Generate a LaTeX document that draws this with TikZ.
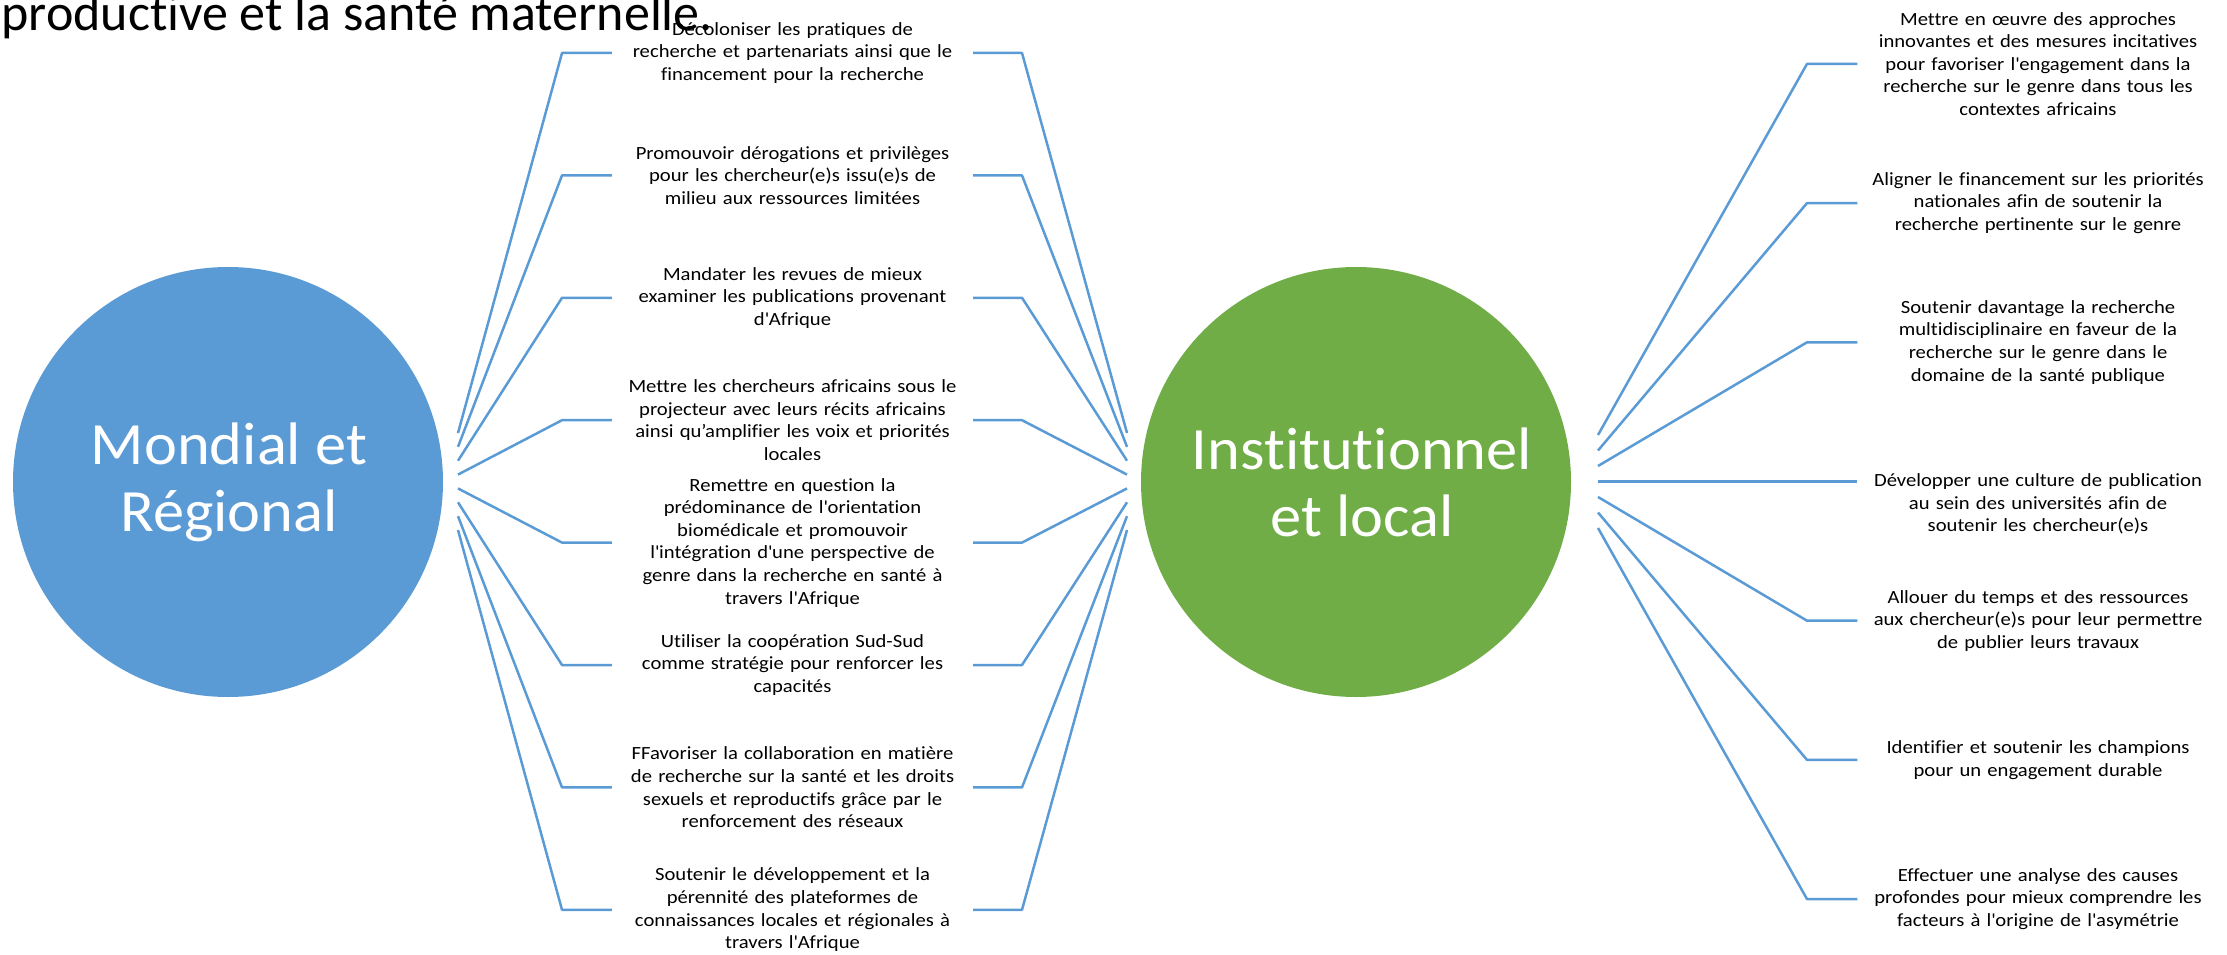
\documentclass[tikz,border=0pt]{standalone}
\usepackage{fontspec}
\setmainfont[Ligatures=NoCommon]{Carlito}
\newfontfamily\itemfont[FakeStretch=1.11,Ligatures=NoCommon]{Carlito}
\newfontfamily\hubfont[FakeStretch=1.04,Ligatures=NoCommon]{Carlito}
\newcommand\ap{\textquotesingle}
\definecolor{cblue}{HTML}{5B9BD5}
\definecolor{cgreen}{HTML}{70AD47}
\begin{document}
\begin{tikzpicture}[x=1pt,y=-1pt,
  hub/.style={circle,minimum size=430pt,inner sep=0pt},
  hubtext/.style={inner sep=0pt,text=white,align=center,font=\hubfont\fontsize{60}{67}\selectfont},
  item/.style={text width=361pt,inner sep=0pt,align=center,font=\itemfont\fontsize{18.6}{22.6}\selectfont},
  link/.style={draw=cblue,line width=2.5pt,line join=round}]
\useasboundingbox (0,0) rectangle (2227,955);
\clip (0,0) rectangle (2227,955);
\node[anchor=base east,inner sep=0pt,font=\fontsize{52}{62}\selectfont] (title) at (713,31) {reproductive et la santé maternelle.};
\node[hub,fill=cblue] (L) at (228,482) {};
\node[hubtext] (Lt) at (229,482) {Mondial et\\Régional};
\node[hub,fill=cgreen] (R) at (1356,482) {};
\node[hubtext] (Rt) at (1362,482) {Institutionnel\\et local};
% middle items
\node[item] (m1) at (792.5,53) {Décoloniser les pratiques de\\recherche et partenariats ainsi que le\\financement pour la recherche};
\node[item] (m2) at (792.5,175.4) {Promouvoir dérogations et privilèges\\pour les chercheur(e)s issu(e)s de\\milieu aux ressources limitées};
\node[item] (m3) at (792.5,297.8) {Mandater les revues de mieux\\examiner les publications provenant\\d\ap Afrique};
\node[item] (m4) at (792.5,420.2) {Mettre les chercheurs africains sous le\\projecteur avec leurs récits africains\\ainsi qu’amplifier les voix et priorités\\locales};
\node[item] (m5) at (792.5,542.6) {Remettre en question la\\prédominance de l\ap orientation\\biomédicale et promouvoir\\l\ap intégration d\ap une perspective de\\genre dans la recherche en santé à\\travers l\ap Afrique};
\node[item] (m6) at (792.5,665) {Utiliser la coopération Sud-Sud\\comme stratégie pour renforcer les\\capacités};
\node[item] (m7) at (792.5,787.4) {FFavoriser la collaboration en matière\\de recherche sur la santé et les droits\\sexuels et reproductifs grâce par le\\renforcement des réseaux};
\node[item] (m8) at (792.5,909.8) {Soutenir le développement et la\\pérennité des plateformes de\\connaissances locales et régionales à\\travers l\ap Afrique};
% right items
\node[item] (n1) at (2038,63.9) {Mettre en œuvre des approches\\innovantes et des mesures incitatives\\pour favoriser l\ap engagement dans la\\recherche sur le genre dans tous les\\contextes africains};
\node[item] (n2) at (2038,203.1) {Aligner le financement sur les priorités\\nationales afin de soutenir la\\recherche pertinente sur le genre};
\node[item] (n3) at (2038,342.3) {Soutenir davantage la recherche\\multidisciplinaire en faveur de la\\recherche sur le genre dans le\\domaine de la santé publique};
\node[item] (n4) at (2038,504) {Développer une culture de publication\\au sein des universités afin de\\soutenir les chercheur(e)s};
\node[item] (n5) at (2038,620.7) {Allouer du temps et des ressources\\aux chercheur(e)s pour leur permettre\\de publier leurs travaux};
\node[item] (n6) at (2038,759.9) {Identifier et soutenir les champions\\pour un engagement durable};
\node[item] (n7) at (2038,899.1) {Effectuer une analyse des causes\\profondes pour mieux comprendre les\\facteurs à l\ap origine de l\ap asymétrie};
% middle connectors
\foreach \i [evaluate=\i as \ya using 433+13.86*(\i-1), evaluate=\i as \yb using 53+122.4*(\i-1)] in {1,...,8} {
  \coordinate (lf\i) at (458,\ya);
  \coordinate (le\i) at (562,\yb);
  \coordinate (re\i) at (1022,\yb);
  \coordinate (rf\i) at (1127,\ya);
  \draw[link] (lf\i) -- (le\i) -- (m\i.west);
  \draw[link] (m\i.east) -- (re\i) -- (rf\i);
}
% right connectors
\foreach \j [evaluate=\j as \ya using 435+15.5*(\j-1), evaluate=\j as \yb using 481.5+139.2*(\j-4)] in {1,...,7} {
  \coordinate (sf\j) at (1598,\ya);
  \coordinate (se\j) at (1807,\yb);
  \draw[link] (sf\j) -- (se\j) -- (se\j -| n\j.west);
}
\end{tikzpicture}
\end{document}
